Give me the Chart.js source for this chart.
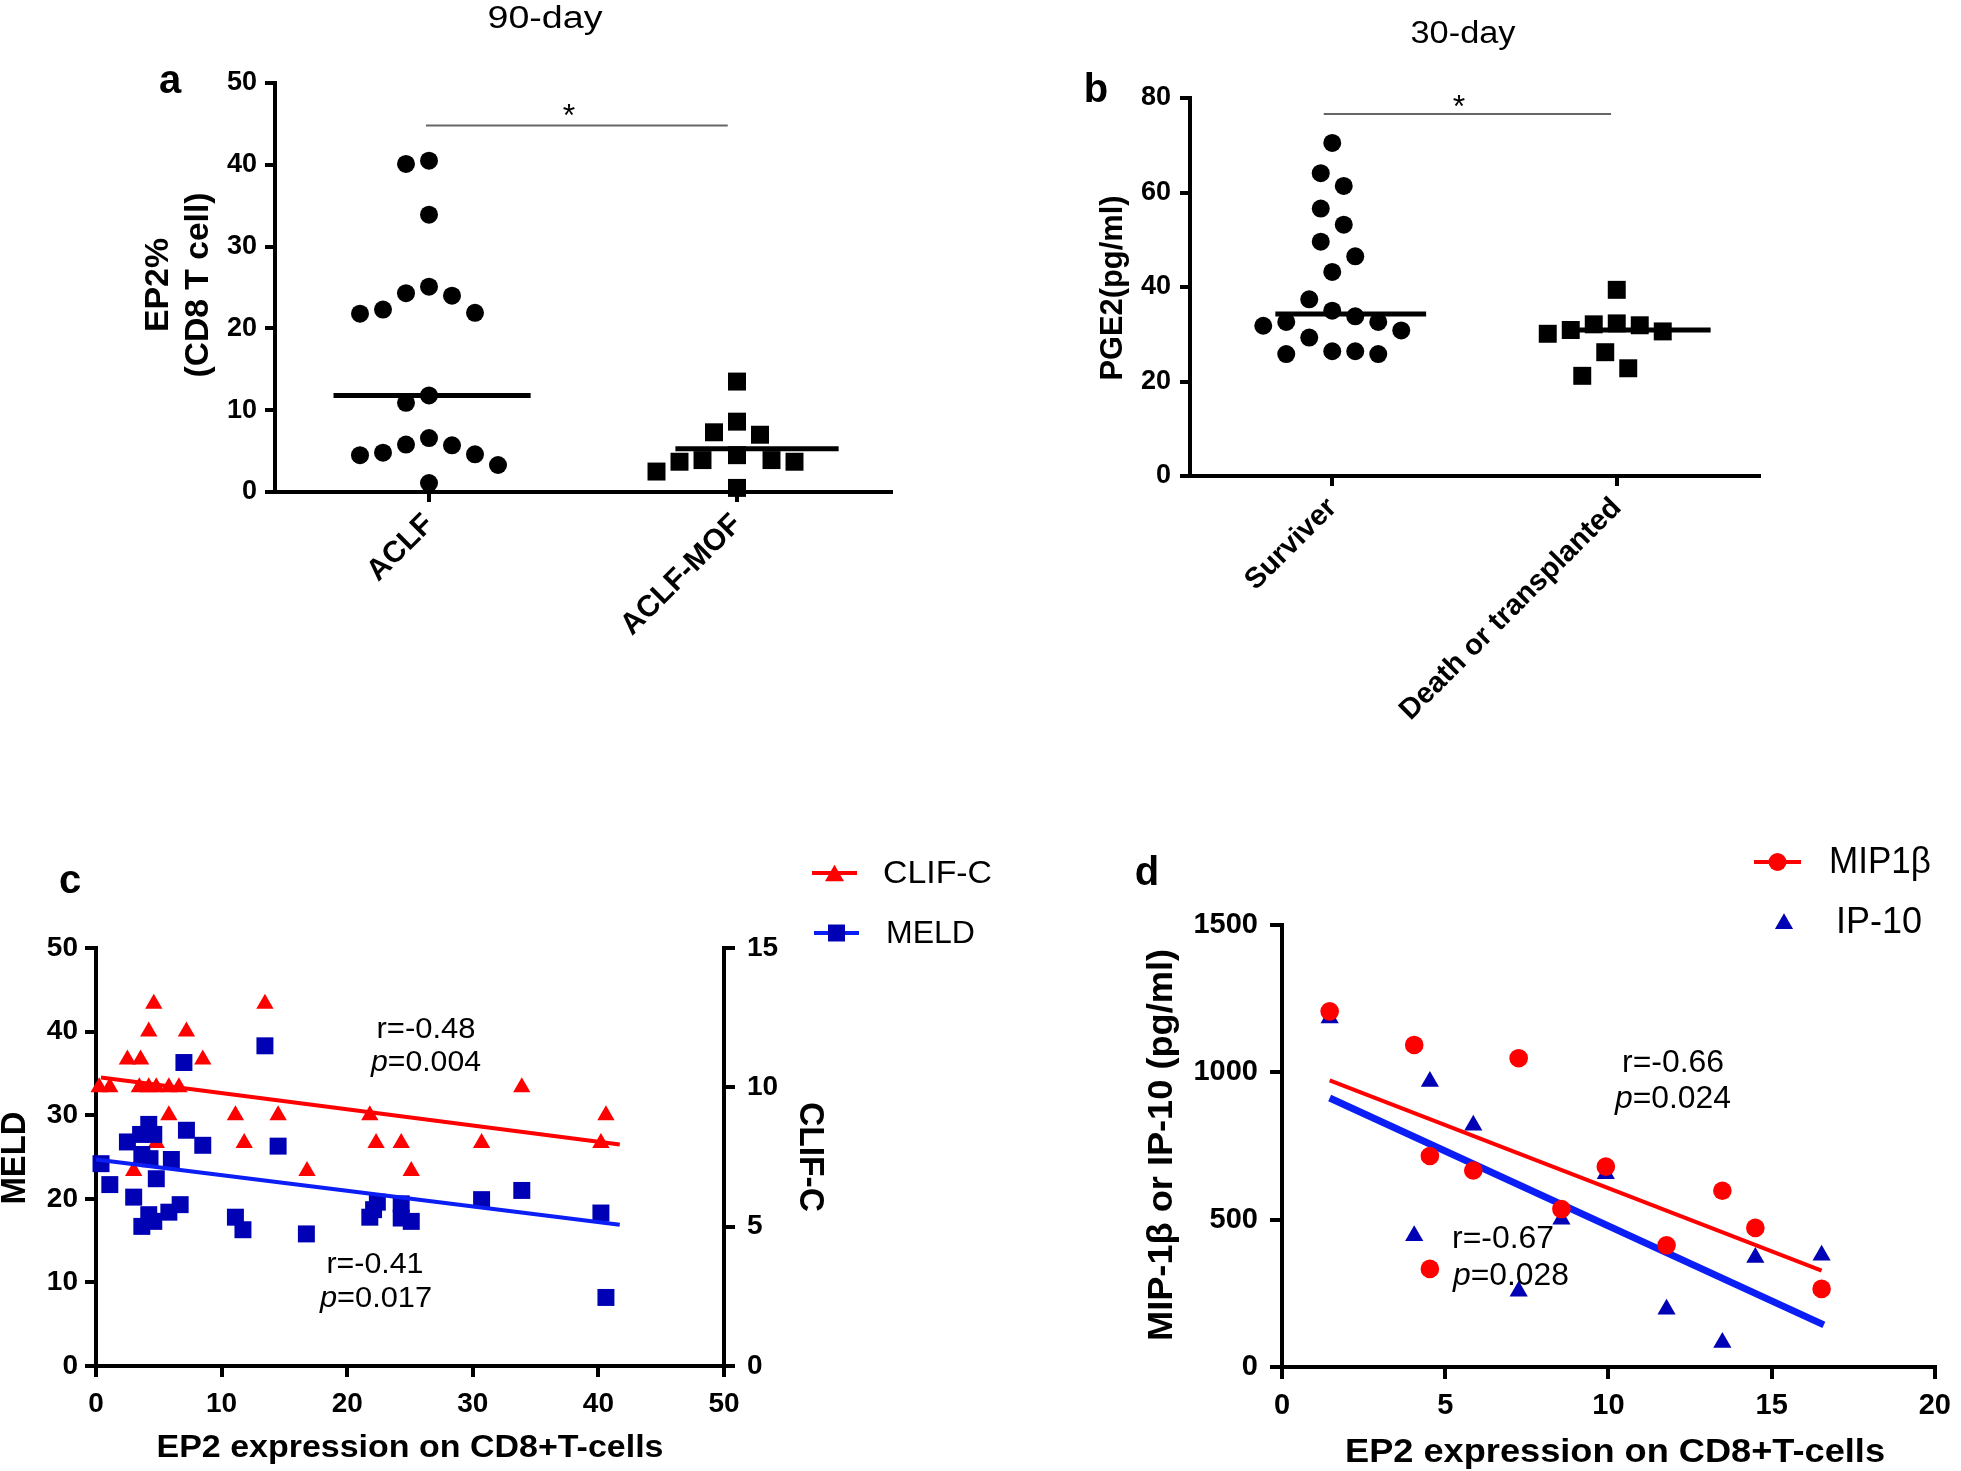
<!DOCTYPE html>
<html>
<head>
<meta charset="utf-8">
<script src="https://cdn.jsdelivr.net/npm/chart.js@4.4.1/dist/chart.umd.min.js"></script>
<style>
html, body { margin: 0; padding: 0; background: #fff; }
#wrap { position: relative; width: 1961px; height: 1471px; overflow: hidden; }
#wrap canvas { position: absolute; left: 0; top: 0; }
</style>
</head>
<body>
<div id="wrap">
  <canvas id="chartA" width="1961" height="1471"></canvas>
  <canvas id="chartB" width="1961" height="1471"></canvas>
  <canvas id="chartC" width="1961" height="1471"></canvas>
  <canvas id="chartD" width="1961" height="1471"></canvas>
</div>
<script>
// ---- data ----
// a: EP2% on CD8 T cells, 90-day
const aGroups = ['ACLF', 'ACLF-MOF'];
const aclfEP2 = [40.1, 40.5, 33.9, 24.0, 25.1, 24.3, 21.9, 21.8, 22.3, 11.8, 10.9, 6.6, 5.7, 4.6, 4.5, 3.3, 4.8, 5.8, 1.1];
const mofEP2 = [13.5, 8.6, 7.0, 7.3, 3.9, 3.7, 3.7, 3.9, 4.5, 2.5, 0.5];
const aCentreLines = [11.8, 5.3];
const aSigX = [0.99, 1.97];
const aSigY = 44.8;

// b: PGE2, 30-day
const bGroups = ['Surviver', 'Death or transplanted'];
const surviverPGE2 = [70.5, 64.1, 61.4, 56.6, 53.2, 49.6, 46.5, 43.2, 37.4, 35.0, 33.8, 32.6, 31.8, 30.8, 32.6, 29.3, 26.4, 25.8, 25.8, 26.4];
const deathPGE2 = [39.4, 32.3, 30.9, 30.1, 32.1, 31.9, 30.6, 26.2, 22.8, 21.2];
const bCentreLines = [34.3, 30.9];
const bSigX = [0.97, 1.98];
const bSigY = 76.6;

// c: MELD / CLIF-C vs EP2 expression
const meldX = [0.4, 1.1, 2.5, 3.0, 3.55, 4.2, 4.6, 3.65, 4.3, 6.0, 4.8, 3.65, 4.2, 4.6, 5.8, 6.7, 7.0, 7.2, 8.5, 11.1, 11.7, 13.45, 14.5, 16.75, 21.8, 22.1, 22.4, 24.3, 24.3, 25.1, 30.7, 33.9, 40.2, 40.6];
const meldY = [24.2, 21.7, 26.8, 20.2, 27.7, 28.9, 27.7, 25.3, 24.8, 24.7, 22.4, 16.7, 18.1, 17.3, 18.4, 19.3, 36.3, 28.2, 26.4, 17.8, 16.3, 38.3, 26.3, 15.8, 17.8, 18.7, 19.6, 19.4, 17.7, 17.3, 19.9, 21.0, 18.3, 8.2];
const clifX = [0.25, 1.1, 2.5, 3.55, 3.45, 4.2, 4.6, 4.2, 4.8, 5.8, 6.6, 7.2, 8.5, 5.8, 3.0, 4.8, 11.1, 11.8, 13.45, 14.5, 16.8, 21.8, 22.3, 24.3, 25.1, 30.7, 33.9, 40.2, 40.6];
const clifY = [10, 10, 11, 11, 10, 12, 13, 10, 10, 10, 10, 12, 11, 9, 7, 8, 9, 8, 13, 9, 7, 9, 8, 8, 7, 8, 10, 8, 9];
const meldFitX = [0, 41.7];
const meldFitY = [24.7, 16.9];
const clifFitX = [0.4, 41.7];
const clifFitY = [10.35, 7.95];

// d: MIP-1b / IP-10 vs EP2 expression
const mipX = [1.46, 4.05, 7.25, 4.53, 5.86, 9.92, 8.56, 13.49, 14.5, 11.78, 4.53, 16.53];
const mipY = [1207, 1093, 1048, 716, 667, 680, 536, 598, 472, 413, 333, 265];
const ipX = [1.46, 4.53, 5.86, 9.92, 8.56, 4.05, 7.25, 11.78, 13.49, 14.5, 16.53];
const ipY = [1184, 969, 820, 656, 501, 445, 257, 196, 83, 372, 379];
const mipFitX = [1.46, 16.53];
const mipFitY = [973, 327];
const ipFitX = [1.46, 16.6];
const ipFitY = [913, 143];

// ---- layout / style ----
const W = 1961, H = 1471;
const FONT = '"Liberation Sans", Arial, Helvetica, sans-serif';
const RED = '#ff0000';
const BLUE_MARK = '#0000b4';
const BLUE_LINE = '#0a1ef5';

const areaA = { l: 275, t: 83, r: 891, b: 492 };
const areaB = { l: 1190, t: 98, r: 1759, b: 476 };
const areaC = { l: 96, t: 948, r: 724, b: 1366 };
const areaD = { l: 1282, t: 925, r: 1943, b: 1367 };

function padFor(area, yW, xH, y2W) {
  return { left: area.l - yW, top: area.t, right: W - area.r - (y2W || 0), bottom: H - area.b - xH };
}

function pts(xs, ys) {
  return xs.map((x, i) => ({ x: x, y: ys[i] }));
}

// bee-swarm in slots: each value (largest first) takes the slot nearest the
// group centre where its elliptical footprint does not hit an earlier point
function swarm(values, centre, pxPerX, pxPerY, sw) {
  const placed = [];
  const xs = new Array(values.length);
  const order = values.map((v, i) => i).sort((a, b) => values[b] - values[a]);
  order.forEach(i => {
    const y = values[i] * pxPerY;
    let x = 0;
    for (let n = 0; n < 40; n++) {
      const k = n === 0 ? 0 : (n % 2 ? -Math.ceil(n / 2) : Math.ceil(n / 2));
      x = k * sw.slot;
      const hit = placed.some(p => {
        const dx = (x - p.x) / sw.gx, dy = (y - p.y) / sw.gy;
        return dx * dx + dy * dy < 1;
      });
      if (!hit) break;
    }
    placed.push({ x: x, y: y });
    xs[i] = centre + x / pxPerX;
  });
  return values.map((v, i) => ({ x: xs[i], y: v }));
}

function axis(o) {
  return {
    type: 'linear',
    position: o.position || undefined,
    min: o.min,
    max: o.max,
    border: { display: true, color: '#000', width: 4 },
    grid: { display: true, drawOnChartArea: false, drawTicks: true, tickLength: o.tickLen || 10, color: '#000', lineWidth: 4 },
    ticks: {
      color: '#000',
      padding: o.pad,
      stepSize: o.step,
      autoSkip: false,
      minRotation: o.rot || 0,
      maxRotation: o.rot || 0,
      font: { family: FONT, size: o.size, weight: 'bold' },
      callback: o.labels ? (v => o.labels[v - 1]) : (v => String(v))
    },
    afterBuildTicks: o.labels ? (s => { s.ticks = o.labels.map((g, i) => ({ value: i + 1 })); }) : undefined,
    afterFit: s => { if (o.w) s.width = o.w; if (o.h) s.height = o.h; }
  };
}

function fontOf(size, bold, italic) {
  return (italic ? 'italic ' : '') + (bold ? 'bold ' : '') + size + 'px ' + FONT;
}

function drawText(ctx, s) {
  const parts = s.parts || [{ t: s.text }];
  ctx.save();
  ctx.translate(s.x, s.y);
  if (s.rot) ctx.rotate(s.rot * Math.PI / 180);
  let total = 0;
  const widths = parts.map(p => {
    ctx.font = fontOf(s.size, s.bold, p.it);
    const w = ctx.measureText(p.t).width;
    total += w;
    return w;
  });
  if (s.w) ctx.scale(s.w / total, 1);
  let x0 = s.align === 'left' ? 0 : (s.align === 'right' ? -total : -total / 2);
  ctx.textAlign = 'left';
  ctx.textBaseline = 'alphabetic';
  ctx.fillStyle = '#000';
  parts.forEach((p, i) => {
    ctx.font = fontOf(s.size, s.bold, p.it);
    ctx.fillText(p.t, x0, 0);
    x0 += widths[i];
  });
  ctx.restore();
}

function drawKey(ctx, k) {
  ctx.save();
  if (k.line) {
    ctx.strokeStyle = k.lineColor || k.color;
    ctx.lineWidth = k.line;
    ctx.beginPath();
    ctx.moveTo(k.x1, k.y);
    ctx.lineTo(k.x2, k.y);
    ctx.stroke();
  }
  ctx.fillStyle = k.color;
  const cx = (k.x1 + k.x2) / 2;
  const cy = k.y + (k.style === 'triangle' ? k.r / 4 : 0);
  Chart.helpers.drawPoint(ctx, { pointStyle: k.style, radius: k.r, rotation: 0, borderWidth: 0 }, cx, cy);
  ctx.restore();
}

function notes(texts, keys) {
  return {
    id: 'notes',
    afterDraw(chart) {
      const ctx = chart.ctx;
      (keys || []).forEach(k => drawKey(ctx, k));
      texts.forEach(t => drawText(ctx, t));
    }
  };
}

function marks(data, style, r, color, order) {
  return { data: data, pointStyle: style, pointRadius: r, pointHoverRadius: r, pointBackgroundColor: color,
    pointBorderColor: color, pointBorderWidth: 0, showLine: false, clip: false, order: order };
}
function segment(data, color, width, order) {
  return { data: data, showLine: true, borderColor: color, borderWidth: width, pointRadius: 0, pointHoverRadius: 0,
    fill: false, tension: 0, clip: false, order: order };
}

const baseOpts = {
  responsive: false,
  animation: false,
  events: [],
  plugins: { legend: { display: false }, tooltip: { enabled: false } }
};

// ---- panel a ----
{
  const pxX = (areaA.r - areaA.l) / 2, pxY = (areaA.b - areaA.t) / 50;
  const sw = { gx: 23, gy: 28, slot: 11.5 };
  const span = [-0.31, 0.33];
  new Chart(document.getElementById('chartA'), {
    type: 'scatter',
    data: { datasets: [
      marks(swarm(aclfEP2, 1, pxX, pxY, sw), 'circle', 9, '#000', 5),
      marks(swarm(mofEP2, 2, pxX, pxY, sw), 'rect', 12.7, '#000', 4),
      segment([{ x: 1 + span[0], y: aCentreLines[0] }, { x: 1 + span[1], y: aCentreLines[0] }], '#000', 5, 2),
      segment([{ x: 2 - 0.2, y: aCentreLines[1] }, { x: 2 + span[1], y: aCentreLines[1] }], '#000', 5, 2),
      segment(pts(aSigX, [aSigY, aSigY]), '#666', 2, 1)
    ] },
    options: Object.assign({}, baseOpts, {
      layout: { padding: padFor(areaA, 100, 200) },
      scales: {
        x: axis({ min: 0.5, max: 2.5, labels: aGroups, rot: 45, size: 30, pad: 5, h: 200 }),
        y: axis({ min: 0, max: 50, step: 10, size: 27, pad: 8, w: 100 })
      }
    }),
    plugins: [notes([
      { text: '90-day', x: 545, y: 28, size: 31, w: 115 },
      { text: 'a', x: 170, y: 93, size: 40, bold: true },
      { text: '*', x: 569, y: 126, size: 32 },
      { text: 'EP2%', x: 168, y: 285, size: 34, bold: true, rot: -90, w: 94 },
      { text: '(CD8 T cell)', x: 208, y: 285, size: 34, bold: true, rot: -90, w: 185 }
    ])]
  });
}

// ---- panel b ----
{
  const pxX = (areaB.r - areaB.l) / 2, pxY = (areaB.b - areaB.t) / 80;
  const sw = { gx: 23, gy: 32, slot: 11.5 };
  new Chart(document.getElementById('chartB'), {
    type: 'scatter',
    data: { datasets: [
      marks(swarm(surviverPGE2, 1, pxX, pxY, sw), 'circle', 9, '#000', 5),
      marks(swarm(deathPGE2, 2, pxX, pxY, sw), 'rect', 12.7, '#000', 4),
      segment([{ x: 1 - 0.2, y: bCentreLines[0] }, { x: 1.33, y: bCentreLines[0] }], '#000', 5, 2),
      segment([{ x: 2 - 0.18, y: bCentreLines[1] }, { x: 2.33, y: bCentreLines[1] }], '#000', 5, 2),
      segment(pts(bSigX, [bSigY, bSigY]), '#666', 2, 1)
    ] },
    options: Object.assign({}, baseOpts, {
      layout: { padding: padFor(areaB, 100, 300) },
      scales: {
        x: axis({ min: 0.5, max: 2.5, labels: bGroups, rot: 45, size: 29, pad: 5, h: 300 }),
        y: axis({ min: 0, max: 80, step: 20, size: 27, pad: 9, w: 100 })
      }
    }),
    plugins: [notes([
      { text: '30-day', x: 1463, y: 43, size: 31, w: 105 },
      { text: 'b', x: 1096, y: 102, size: 40, bold: true },
      { text: '*', x: 1459, y: 117, size: 32 },
      { text: 'PGE2(pg/ml)', x: 1122, y: 288, size: 31, bold: true, rot: -90, w: 185 }
    ])]
  });
}

// ---- panel c ----
new Chart(document.getElementById('chartC'), {
  type: 'scatter',
  data: { datasets: [
    Object.assign(marks(pts(clifX, clifY), 'triangle', 10, RED, 4), { yAxisID: 'y2' }),
    marks(pts(meldX, meldY), 'rect', 12, BLUE_MARK, 3),
    Object.assign(segment(pts(clifFitX, clifFitY), RED, 4, 2), { yAxisID: 'y2' }),
    segment(pts(meldFitX, meldFitY), BLUE_LINE, 4, 1)
  ] },
  options: Object.assign({}, baseOpts, {
    layout: { padding: padFor(areaC, 80, 80, 100) },
    scales: {
      x: axis({ min: 0, max: 50, step: 10, size: 28, pad: 10, tickLen: 11, h: 80 }),
      y: axis({ min: 0, max: 50, step: 10, size: 28, pad: 7, tickLen: 11, w: 80 }),
      y2: axis({ position: 'right', min: 0, max: 15, step: 5, size: 28, pad: 12, tickLen: 11, w: 100 })
    }
  }),
  plugins: [notes([
    { text: 'c', x: 70, y: 893, size: 40, bold: true },
    { text: 'CLIF-C', x: 883, y: 883, size: 32, w: 109, align: 'left' },
    { text: 'MELD', x: 886, y: 943, size: 32, w: 89, align: 'left' },
    { text: 'MELD', x: 25, y: 1158, size: 35, bold: true, rot: -90, w: 93 },
    { text: 'CLIF-C', x: 800, y: 1157, size: 35, bold: true, rot: 90, w: 110 },
    { text: 'EP2 expression on CD8+T-cells', x: 410, y: 1457, size: 31, bold: true, w: 507 },
    { text: 'r=-0.48', x: 426, y: 1038, size: 29, w: 99 },
    { parts: [{ t: 'p', it: true }, { t: '=0.004' }], x: 426, y: 1071, size: 29, w: 110 },
    { text: 'r=-0.41', x: 375, y: 1273, size: 29, w: 97 },
    { parts: [{ t: 'p', it: true }, { t: '=0.017' }], x: 376, y: 1307, size: 29, w: 112 }
  ], [
    { x1: 812, x2: 857, y: 873, color: RED, line: 4, style: 'triangle', r: 11 },
    { x1: 814, x2: 859, y: 933, color: BLUE_MARK, lineColor: BLUE_LINE, line: 4, style: 'rect', r: 12 }
  ])]
});

// ---- panel d ----
new Chart(document.getElementById('chartD'), {
  type: 'scatter',
  data: { datasets: [
    marks(pts(ipX, ipY), 'triangle', 10.5, BLUE_MARK, 4),
    segment(pts(mipFitX, mipFitY), RED, 4, 3),
    segment(pts(ipFitX, ipFitY), BLUE_LINE, 7, 2),
    marks(pts(mipX, mipY), 'circle', 9.3, RED, 1)
  ] },
  options: Object.assign({}, baseOpts, {
    layout: { padding: padFor(areaD, 120, 80) },
    scales: {
      x: axis({ min: 0, max: 20, step: 5, size: 29, pad: 10, tickLen: 12, h: 80 }),
      y: axis({ min: 0, max: 1500, step: 500, size: 29, pad: 12, tickLen: 12, w: 120 })
    }
  }),
  plugins: [notes([
    { text: 'd', x: 1147, y: 885, size: 40, bold: true },
    { text: 'MIP1β', x: 1829, y: 873, size: 37, w: 102, align: 'left' },
    { text: 'IP-10', x: 1836, y: 933, size: 37, w: 86, align: 'left' },
    { text: 'MIP-1β or IP-10 (pg/ml)', x: 1172, y: 1145, size: 35, bold: true, rot: -90, w: 392 },
    { text: 'EP2 expression on CD8+T-cells', x: 1615, y: 1462, size: 33, bold: true, w: 540 },
    { text: 'r=-0.66', x: 1673, y: 1072, size: 31, w: 102 },
    { parts: [{ t: 'p', it: true }, { t: '=0.024' }], x: 1673, y: 1108, size: 31, w: 116 },
    { text: 'r=-0.67', x: 1503, y: 1248, size: 31, w: 102 },
    { parts: [{ t: 'p', it: true }, { t: '=0.028' }], x: 1511, y: 1285, size: 31, w: 116 }
  ], [
    { x1: 1754, x2: 1801, y: 862, color: RED, line: 4, style: 'circle', r: 9 },
    { x1: 1784, x2: 1784, y: 921, color: BLUE_MARK, line: 0, style: 'triangle', r: 10.5 }
  ])]
});
</script>
</body>
</html>
